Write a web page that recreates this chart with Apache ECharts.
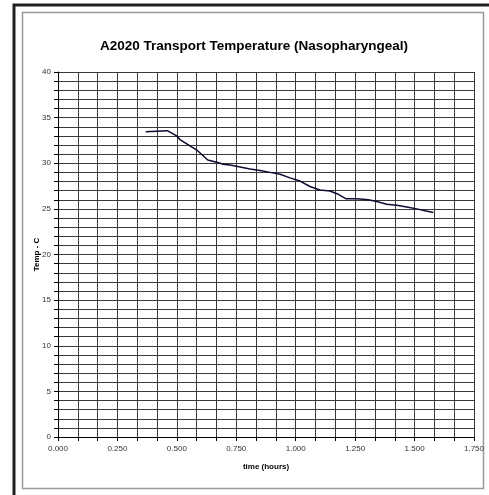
<!DOCTYPE html>
<html><head><meta charset="utf-8">
<script src="https://cdn.jsdelivr.net/npm/echarts@6/dist/echarts.min.js"></script>
<style>html,body{margin:0;padding:0;background:#fff}#c{width:489px;height:495px}</style>
</head><body><div id="c"></div>
<script>
var titleText = 'A2020 Transport Temperature (Nasopharyngeal)';
var xName = 'time (hours)';
var yName = 'Temp - C';
var timeHours = [0.369,0.460,0.499,0.513,0.584,0.630,0.668,0.695,0.724,0.766,0.808,0.850,0.892,0.934,0.976,1.018,1.060,1.102,1.144,1.179,1.212,1.257,1.305,1.341,1.383,1.425,1.467,1.509,1.544,1.579];
var tempC = [33.46,33.57,33.0,32.6,31.45,30.36,30.1,29.9,29.8,29.6,29.37,29.2,29.0,28.8,28.4,28.05,27.45,27.07,26.96,26.6,26.1,26.1,26.0,25.8,25.5,25.4,25.2,25.0,24.8,24.6];
var data = timeHours.map(function(t,i){return [t,tempC[i]];});
var font = '"Liberation Sans Narrow","Liberation Sans",Arial,sans-serif';
var chart = echarts.init(document.getElementById('c'));
chart.setOption({
  animation:false,
  backgroundColor:'#fff',
  graphic:[
    {type:'rect',shape:{x:14,y:5,width:480,height:495},style:{fill:'none',stroke:'#222',lineWidth:3},silent:true},
    {type:'rect',shape:{x:22.5,y:12.5,width:461,height:476},style:{fill:'#fff',stroke:'#999',lineWidth:1.5},silent:true,z:-1}
  ],
  title:{text:titleText,left:249,top:34,textAlign:'center',textStyle:{fontFamily:font,fontSize:13.5,fontWeight:'bold',color:'#000'}},
  grid:{left:58,right:15,top:72,bottom:58},
  xAxis:{type:'value',min:0,max:1.75,interval:0.25,
    name:xName,nameLocation:'middle',nameGap:26,
    nameTextStyle:{fontFamily:font,fontSize:8,fontWeight:'bold',color:'#000'},
    axisLine:{lineStyle:{color:'#000',width:1}},
    axisTick:{show:true,length:4,lineStyle:{color:'#000'}},
    minorTick:{show:true,splitNumber:3,length:4,lineStyle:{color:'#000'}},
    axisLabel:{fontFamily:font,fontSize:8,color:'#333',margin:8,formatter:function(v){return v.toFixed(3);}},
    splitLine:{show:true,lineStyle:{color:'#3a3a3a',width:1}},
    minorSplitLine:{show:true,lineStyle:{color:'#3a3a3a',width:1}}
  },
  yAxis:{type:'value',min:0,max:40,interval:5,
    name:yName,nameLocation:'middle',nameGap:17,nameRotate:90,nameMoveOverlap:false,
    nameTextStyle:{fontFamily:font,fontSize:8,fontWeight:'bold',color:'#000'},
    axisLine:{show:true,lineStyle:{color:'#000',width:1}},
    axisTick:{show:true,length:4,lineStyle:{color:'#000'}},
    minorTick:{show:true,splitNumber:5,length:4,lineStyle:{color:'#000'}},
    axisLabel:{fontFamily:font,fontSize:8,color:'#333',margin:7},
    splitLine:{show:true,lineStyle:{color:'#3a3a3a',width:1}},
    minorSplitLine:{show:true,lineStyle:{color:'#3a3a3a',width:1}}
  },
  series:[{type:'line',data:data,showSymbol:false,symbol:'none',
    lineStyle:{color:'#0c0c30',width:1.5}}]
});
</script></body></html>
